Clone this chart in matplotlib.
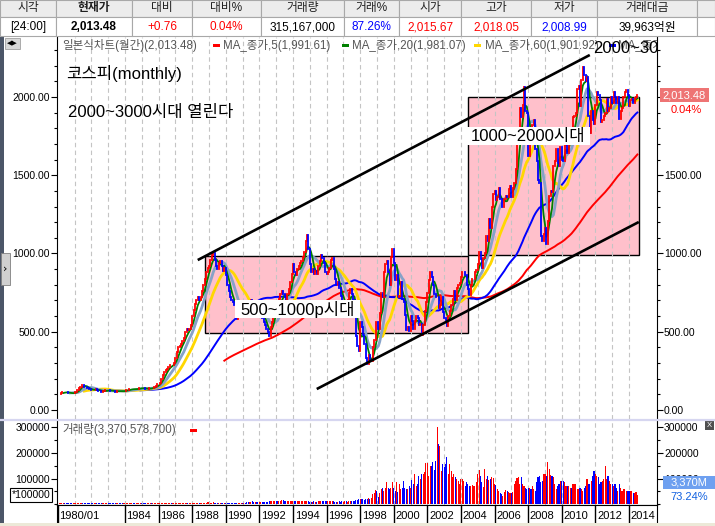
import numpy as np
import pandas as pd
import matplotlib
matplotlib.use("Agg")
import matplotlib.pyplot as plt
from matplotlib.patches import Rectangle
from matplotlib.ticker import MultipleLocator

plt.rcParams["font.family"] = ["Liberation Sans", "Noto Sans CJK KR", "DejaVu Sans"]

# KOSPI monthly close, 1980/01 ~ 2014/07
close_80s = [
    102, 105, 108, 112, 115, 113, 112, 110, 108, 107, 106, 107,      # 1980
    112, 118, 125, 138, 150, 162, 160, 150, 145, 138, 132, 131,      # 1981
    128, 126, 130, 135, 128, 124, 120, 118, 120, 122, 125, 127,      # 1982
    126, 124, 122, 121, 120, 118, 120, 122, 121, 120, 119, 121,      # 1983
    124, 127, 130, 131, 133, 134, 133, 132, 134, 136, 139, 142,      # 1984
    140, 138, 136, 134, 136, 138, 140, 139, 143, 148, 156, 163,      # 1985
    165, 175, 195, 225, 240, 255, 265, 275, 290, 285, 290, 300,      # 1986
    330, 370, 400, 410, 420, 440, 460, 500, 520, 510, 520, 540,      # 1987
    600, 640, 680, 700, 720, 700, 720, 760, 800, 840, 880, 907,      # 1988
    920, 960, 990, 1000, 960, 920, 900, 940, 950, 920, 890, 909,     # 1989
]
close_90s = [
    860, 800, 760, 720, 700, 690, 670, 620, 580, 620, 660, 696,      # 1990
    650, 680, 660, 640, 620, 620, 700, 690, 680, 680, 640, 610,      # 1991
    620, 640, 590, 560, 540, 520, 500, 470, 530, 560, 640, 678,      # 1992
    650, 630, 710, 740, 760, 740, 720, 700, 740, 770, 820, 866,      # 1993
    930, 880, 860, 900, 920, 940, 950, 980, 1010, 1080, 1120, 1027,  # 1994
    930, 880, 900, 870, 890, 870, 920, 950, 990, 970, 940, 882,      # 1995
    870, 880, 910, 960, 970, 900, 840, 800, 820, 780, 730, 651,      # 1996
    660, 680, 660, 700, 750, 770, 740, 700, 650, 470, 410, 376,      # 1997
    560, 530, 480, 420, 330, 297, 350, 310, 310, 400, 450, 562,      # 1998
    560, 520, 620, 750, 720, 880, 930, 950, 880, 800, 980, 1028,     # 1999
]
close_00s = [
    940, 830, 860, 720, 730, 820, 710, 690, 610, 510, 530, 504,      # 2000
    600, 570, 520, 570, 600, 590, 540, 550, 480, 540, 630, 693,      # 2001
    750, 830, 880, 850, 800, 740, 720, 720, 650, 670, 720, 627,      # 2002
    590, 575, 535, 600, 630, 670, 710, 760, 700, 780, 800, 810,      # 2003
    850, 880, 880, 860, 800, 770, 735, 800, 835, 840, 880, 896,      # 2004
    930, 1010, 965, 910, 970, 1000, 1110, 1080, 1220, 1160, 1300, 1379,   # 2005
    1400, 1340, 1360, 1420, 1350, 1295, 1300, 1350, 1370, 1360, 1410, 1434,  # 2006
    1360, 1420, 1450, 1540, 1700, 1740, 1930, 1870, 1950, 2064, 1910, 1897,  # 2007
    1620, 1710, 1700, 1820, 1850, 1670, 1590, 1470, 1450, 1110, 1080, 1124,  # 2008
    1160, 1060, 1210, 1370, 1400, 1390, 1560, 1590, 1670, 1580, 1560, 1682,  # 2009
]
close_10s = [
    1600, 1590, 1690, 1740, 1640, 1700, 1760, 1740, 1870, 1880, 1900, 2051,  # 2010
    2070, 1940, 2110, 2190, 2140, 2100, 2130, 1880, 1770, 1910, 1850, 1826,  # 2011
    1950, 2030, 2010, 1980, 1840, 1850, 1880, 1900, 1990, 1910, 1930, 1997,  # 2012
    1960, 2030, 2000, 1960, 2000, 1860, 1910, 1930, 2000, 2030, 2045, 2011,  # 2013
    1941, 1980, 1986, 1962, 1995, 2002, 2013.48,                             # 2014
]

# monthly volume (thousands, chart unit)
vol_80s = [
    4, 4, 5, 5, 4, 4, 4, 4, 4, 4, 4, 4,
    5, 5, 6, 6, 7, 7, 6, 5, 5, 5, 4, 4,
    4, 4, 5, 5, 4, 4, 4, 4, 4, 4, 4, 4,
    4, 4, 4, 4, 4, 4, 4, 4, 4, 4, 4, 4,
    4, 4, 5, 5, 5, 5, 4, 4, 4, 5, 5, 5,
    5, 5, 4, 4, 4, 5, 5, 5, 5, 5, 6, 6,
    5, 5, 6, 6, 6, 6, 5, 5, 5, 5, 5, 5,
    6, 6, 6, 6, 6, 5, 5, 6, 6, 5, 5, 5,
    6, 6, 6, 7, 7, 6, 5, 6, 6, 6, 7, 8,
    8, 7, 7, 8, 7, 6, 5, 5, 6, 6, 6, 5,
]
vol_90s = [
    5, 5, 5, 6, 6, 6, 5, 6, 6, 7, 7, 7,
    7, 7, 7, 8, 8, 9, 10, 11, 10, 10, 9, 9,
    9, 9, 8, 8, 9, 9, 10, 12, 13, 12, 13, 14,
    12, 12, 13, 14, 16, 15, 14, 13, 13, 13, 12, 13,
    13, 12, 12, 11, 12, 11, 12, 13, 12, 13, 13, 11,
    10, 10, 10, 11, 10, 10, 11, 11, 12, 12, 13, 11,
    11, 11, 12, 12, 12, 11, 9, 10, 10, 11, 10, 11,
    10, 11, 11, 10, 12, 13, 12, 14, 13, 15, 17, 20,
    20, 20, 21, 18, 19, 21, 24, 22, 25, 39, 45, 55,
    52, 29, 43, 59, 65, 52, 65, 88, 65, 59, 63, 85,
]
vol_00s = [
    63, 52, 85, 46, 78, 59, 65, 89, 65, 59, 59, 72,
    65, 94, 78, 118, 72, 78, 111, 98, 118, 118, 124, 160,
    160, 111, 150, 150, 163, 135, 170, 303, 235, 229, 131, 157,
    144, 157, 183, 118, 157, 131, 105, 118, 105, 98, 92, 78,
    98, 98, 92, 72, 85, 78, 72, 72, 76, 72, 72, 85,
    120, 133, 110, 86, 66, 137, 98, 110, 94, 100, 105, 102,
    80, 75, 60, 52, 45, 39, 33, 46, 55, 50, 46, 45,
    45, 48, 78, 92, 102, 105, 78, 105, 78, 70, 65, 59,
    65, 65, 59, 72, 60, 52, 85, 105, 111, 85, 90, 118,
    118, 111, 163, 137, 115, 111, 107, 78, 59, 72, 80, 92,
]
vol_10s = [
    92, 92, 85, 72, 72, 72, 65, 65, 78, 78, 81, 59,
    59, 65, 59, 52, 65, 72, 98, 78, 78, 92, 110, 131,
    120, 111, 105, 78, 85, 92, 98, 150, 98, 111, 90, 78,
    78, 72, 78, 65, 52, 78, 65, 52, 59, 59, 52, 52,
    52, 50, 50, 45, 43, 46, 35,
]

header_labels = ["시각", "현재가", "대비", "대비%", "거래량", "거래%", "시가", "고가", "저가", "거래대금"]
header_values = ["[24:00]", "2,013.48", "+0.76", "0.04%", "315,167,000", "87.26%",
                 "2,015.67", "2,018.05", "2,008.99", "39,963억원"]
header_value_colors = ["black", "black", "red", "red", "black", "blue", "red", "red", "blue", "black"]

legend_title = "일본식차트(월간)(2,013.48)"
legend_labels = ["MA_종가,5(1,991.61)", "MA_종가,20(1,981.07)", "MA_종가,60(1,901.92)", "MA_종가,120(1,647.35)"]
legend_colors = ["#FF0000", "#008000", "#FFD700", "#0000FF"]

ma_windows = [120, 60, 20, 10, 5]
ma_colors = ["#FF0000", "#0000FF", "#FFD700", "#86A2C8", "#008000"]
ma_widths = [1.4, 1.4, 2.0, 2.0, 1.3]

price_ticks = [0, 500, 1000, 1500, 2000]
vol_ticks = [100000, 200000, 300000]
date_years = [1980, 1984, 1986, 1988, 1990, 1992, 1994, 1996, 1998,
              2000, 2002, 2004, 2006, 2008, 2010, 2012, 2014]

# drawn zones (first month, last month, low, high) and trend channel ends (month, price)
zone_500 = [105, 293, 492, 985]
zone_1000 = [293, 415, 990, 2000]
upper_line = [(100, 958), (380, 2268)]
lower_line = [(185, 134), (415, 1201)]

closes = np.array(close_80s + close_90s + close_00s + close_10s, dtype=float)
volumes = np.array(vol_80s + vol_90s + vol_00s + vol_10s, dtype=float) * 1000
n = len(closes)
x = np.arange(n)
opens = np.concatenate([[100.0], closes[:-1]])
bar_colors = np.where(closes >= opens, "#FF0000", "#0000FF")

W, H = 715, 526
def px(l, t, r, b):
    return [l / W, 1 - b / H, (r - l) / W, (b - t) / H]

fig = plt.figure(figsize=(7.15, 5.26), dpi=100)
ax = fig.add_axes(px(57, 37, 657, 419))
axv = fig.add_axes(px(57, 420, 657, 505))
axd = fig.add_axes(px(57, 505, 657, 524))
over = fig.add_axes([0, 0, 1, 1], zorder=10)
over.set_xlim(0, W)
over.set_ylim(H, 0)
over.axis("off")
over.patch.set_visible(False)

# ---- price panel
ax.set_xlim(-0.5, 428)
ax.set_ylim(-57.5, 2383)
for m in range(12, n, 12):
    ax.axvline(m, color="#C4C4C4", lw=0.8, ls=(0, (4, 3)), zorder=1.5)
    axv.axvline(m, color="#C4C4C4", lw=0.8, ls=(0, (4, 3)), zorder=0.5)

for z in (zone_500, zone_1000):
    ax.add_patch(Rectangle((z[0], z[2]), z[1] - z[0], z[3] - z[2],
                           fc="#FFC0CB", ec="black", lw=1.0, zorder=1))

s = pd.Series(closes)
for w, c, lw in zip(ma_windows, ma_colors, ma_widths):
    ax.plot(x, s.rolling(w).mean(), color=c, lw=lw, zorder=3)

lo = np.minimum(opens, closes)
hi = np.maximum(opens, closes)
candles = ax.vlines(x, lo, hi, colors=bar_colors, lw=1.3, zorder=3.5)
candles.set_capstyle("projecting")

for line in (upper_line, lower_line):
    ax.plot([line[0][0], line[1][0]], [line[0][1], line[1][1]],
            color="black", lw=1.9, zorder=4, solid_capstyle="butt")

ax.set_yticks(price_ticks)
ax.set_yticklabels([f"{v:.2f}" for v in price_ticks])
ax.yaxis.set_minor_locator(MultipleLocator(100))
ax.tick_params(axis="y", which="major", direction="out", length=4, width=0.8,
               labelsize=7.5, pad=1, left=True, right=True, labelleft=True, labelright=True)
ax.tick_params(axis="y", which="minor", direction="out", length=2.5, width=0.8, left=True, right=True)
ax.tick_params(axis="x", bottom=False, labelbottom=False)
for side in ("top", "bottom"):
    ax.spines[side].set_visible(False)

# ---- volume panel
axv.set_xlim(-0.5, 428)
axv.set_ylim(-2700, 328400)
axv.bar(x, volumes, width=0.75, color=bar_colors, linewidth=0, zorder=2)
axv.set_yticks(vol_ticks)
axv.set_yticklabels([str(v) for v in vol_ticks])
axv.yaxis.set_minor_locator(MultipleLocator(50000))
axv.tick_params(axis="y", which="major", direction="out", length=4, width=0.8,
                labelsize=7.5, pad=1, left=True, right=True, labelleft=True, labelright=True)
axv.tick_params(axis="y", which="minor", direction="out", length=2.5, width=0.8, left=True, right=True)
axv.tick_params(axis="x", bottom=False, labelbottom=False)
axv.spines["top"].set_visible(False)

# ---- date strip
axd.set_xlim(-0.5, 428)
axd.set_ylim(0, 1)
axd.set_xticks([])
axd.set_yticks([])
for yr in date_years:
    m = (yr - 1980) * 12
    axd.axvline(m, color="black", lw=1)
    axd.text(m + 1.2, 0.42, "1980/01" if yr == 1980 else str(yr), fontsize=8,
             ha="left", va="center")

# ---- frame pieces
over.add_patch(Rectangle((0, 37), 4, 489, fc="#4C5668", ec="none"))
over.add_patch(Rectangle((0, 523), W, 3, fc="#ECE9D8", ec="none"))
over.plot([0, W], [419.5, 419.5], color="#D6D6F0", lw=1.6)
over.add_patch(Rectangle((5, 38), 15, 11, fc="#D8D8D8", ec="#A0A0A0", lw=0.6))
over.text(12.5, 43.5, "◀▶", fontsize=5, ha="center", va="center", family="DejaVu Sans")
over.add_patch(Rectangle((1, 253), 9, 32, fc="#D0D0D0", ec="#808080", lw=0.6))
over.text(5.5, 269, "›", fontsize=8, ha="center", va="center", family="DejaVu Sans")

# header table
col_edges = [0, 56, 132, 192, 261, 344, 399, 461, 531, 597, 697, 715]
for j in range(len(col_edges) - 1):
    l, r = col_edges[j], col_edges[j + 1]
    over.add_patch(Rectangle((l, 0), r - l, 17, fc="#ECECEC", ec="#A8A8A8", lw=0.8))
    over.add_patch(Rectangle((l, 17), r - l, 19, fc="white", ec="#A8A8A8", lw=0.8))
    if j < len(header_labels):
        bold = "bold" if j == 1 else "normal"
        over.text((l + r) / 2, 8.5, header_labels[j], fontsize=8.5, ha="center",
                  va="center", color="#202020", fontweight=bold)
        over.text((l + r) / 2, 27, header_values[j], fontsize=8.5, ha="center",
                  va="center", color=header_value_colors[j], fontweight=bold)

def clipped(t):
    t.set_clip_box(ax.bbox)
    t.set_clip_on(True)
    return t

# legend of price panel
clipped(over.text(62, 45, legend_title, fontsize=8.3, color="#555555", va="center"))
sw_x = [213, 342, 474, 609]
lab_x = [223, 352, 485, 618]
for sx, lx, lab, c in zip(sw_x, lab_x, legend_labels, legend_colors):
    over.add_patch(Rectangle((sx, 43.5), 7, 3, fc=c, ec="none"))
    clipped(over.text(lx, 45, lab, fontsize=8.3, color="#555555", va="center"))

# notes
over.text(66, 73, "코스피(monthly)", fontsize=12, va="center")
over.text(68, 112, "2000~3000시대 열린다", fontsize=12, va="center")
clipped(over.text(593, 48, "2000~3000시대", fontsize=12, va="center"))
over.add_patch(Rectangle((235, 300), 125, 18, fc="white", ec="none"))
over.text(297.5, 309, "500~1000p시대", fontsize=12, ha="center", va="center")
over.add_patch(Rectangle((467, 127), 123, 18, fc="white", ec="none"))
over.text(528.5, 136, "1000~2000시대", fontsize=12, ha="center", va="center")

# right side value boxes
over.add_patch(Rectangle((660, 88), 49, 14, fc="#EE7474", ec="none"))
over.text(684.5, 95, "2,013.48", fontsize=8, color="white", ha="center", va="center")
over.text(686, 110, "0.04%", fontsize=8, color="red", ha="center", va="center")

# volume panel labels
over.text(62, 430, "거래량(3,370,578,700)", fontsize=8.3, color="#555555", va="center")
over.add_patch(Rectangle((190, 428.5), 7, 3, fc="red", ec="none"))
over.add_patch(Rectangle((10, 488), 42, 14, fc="white", ec="black", lw=0.8))
over.text(31, 495, "*100000", fontsize=7.5, ha="center", va="center")
over.add_patch(Rectangle((663, 476), 52, 13, fc="#6EA0F0", ec="none"))
over.text(689, 482.5, "3,370M", fontsize=8, color="white", ha="center", va="center")
over.text(689, 497, "73.24%", fontsize=8, color="#1060E0", ha="center", va="center")
over.add_patch(Rectangle((705, 421), 9, 9, fc="#505050", ec="none"))
over.text(709.5, 425.5, "X", fontsize=5.5, color="white", ha="center", va="center")

fig.savefig("out.png", dpi=100)
